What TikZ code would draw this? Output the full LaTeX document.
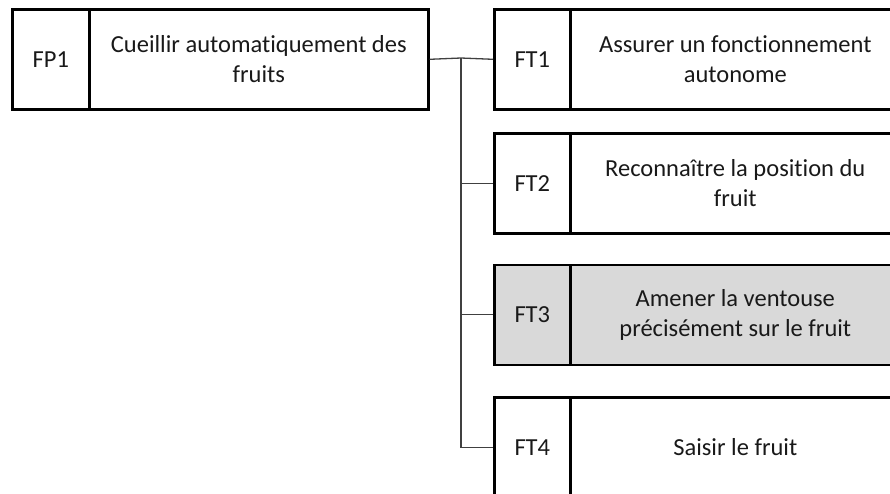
\documentclass[tikz,border=0pt]{standalone}
\usepackage{fontspec}
\setmainfont[Ligatures={NoCommon}]{Carlito}
\begin{document}
\begin{tikzpicture}[x=1pt,y=-1pt,
  box/.style={draw=black, line width=2.6pt, anchor=north west, inner sep=0pt,
    minimum height=100pt, align=center, font=\fontsize{24.5}{30}\selectfont, text=black!90},
  idbox/.style={box, minimum width=77pt},
  hot/.style={fill=black!15},
  link/.style={draw=black!75, line width=1.3pt}]
\clip (0,0) rectangle (890,493);
\useasboundingbox (0,0) rectangle (890,493);
% FP1
\node[idbox] (fp1a) at (11,8) {FP1};
\node[box, minimum width=339pt] (fp1t) at (88,8) {Cueillir automatiquement des\\fruits};
% FT boxes
\node[idbox, minimum width=76pt] (ft1a) at (493,8) {FT1};
\node[box, minimum width=330pt] (ft1t) at (569,8) {Assurer un fonctionnement\\autonome};
\node[idbox, minimum width=76pt] (ft2a) at (493,132) {FT2};
\node[box, minimum width=330pt] (ft2t) at (569,132) {Reconnaître la position du\\fruit};
\node[idbox, minimum width=76pt, hot] (ft3a) at (493,263.5) {FT3};
\node[box, minimum width=330pt, hot] (ft3t) at (569,263.5) {Amener la ventouse\\précisément sur le fruit};
\node[idbox, minimum width=76pt] (ft4a) at (493,396) {FT4};
\node[box, minimum width=330pt] (ft4t) at (569,396) {Saisir le fruit};
% connectors
\coordinate (bus) at (461,58);
\draw[link] (fp1t.east) -- (bus) -- (ft1a.west);
\draw[link] (bus) |- (ft2a.west);
\draw[link] (bus) |- (ft3a.west);
\draw[link] (bus) |- (ft4a.west);
\end{tikzpicture}
\end{document}
